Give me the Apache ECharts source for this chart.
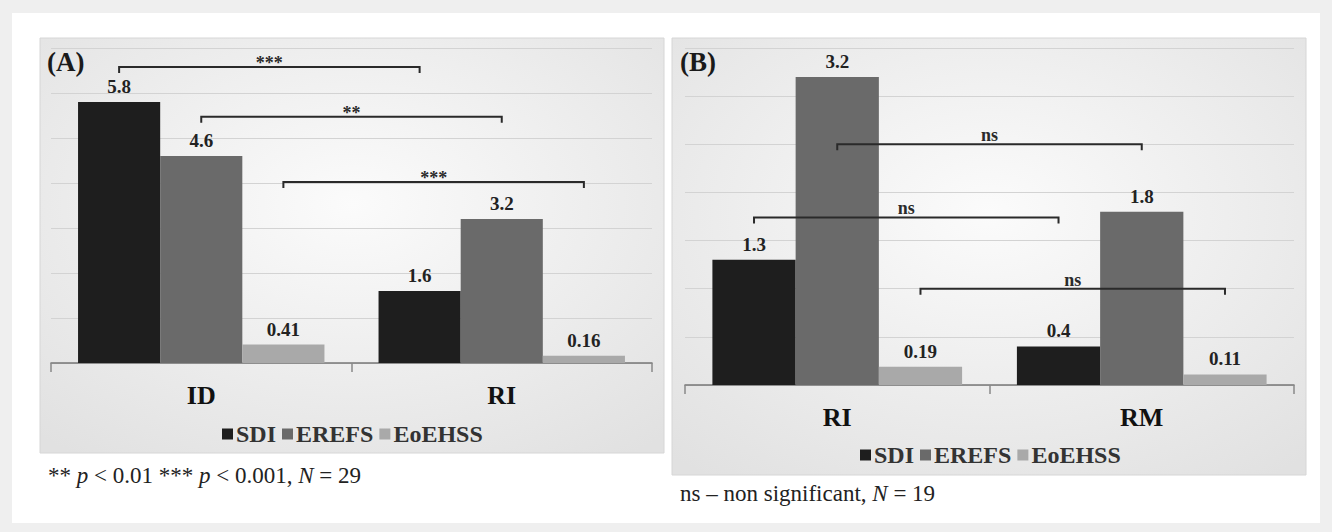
<!DOCTYPE html>
<html>
<head>
<meta charset="utf-8">
<script src="https://cdn.jsdelivr.net/npm/echarts@6/dist/echarts.min.js"></script>
<style>
  html, body { margin: 0; padding: 0; background: #efefef; }
  .card { position: absolute; left: 12px; top: 13px; width: 1308px; height: 510px; background: #fff; }
  #chart { position: absolute; left: 0; top: 0; width: 1332px; height: 532px; }
  .note { position: absolute; font-family: "Liberation Serif", serif; font-size: 23px; color: #222; white-space: nowrap; }
</style>
</head>
<body>
<div class="card"></div>
<div id="chart"></div>
<div class="note" style="left:48px;top:463px">** <i>p</i> &lt; 0.01 *** <i>p</i> &lt; 0.001, <i>N</i> = 29</div>
<div class="note" style="left:680px;top:481px">ns – non significant, <i>N</i> = 19</div>
<script>
// panel A
const catsA = ['ID', 'RI']
const sdiA = [5.8, 1.6]
const erefsA = [4.6, 3.2]
const eoehssA = [0.41, 0.16]
const sigTextA = ['***', '**', '***']
const sigSeriesA = [0, 1, 2]
const sigYA = [6.58, 5.47, 4.02]

// panel B
const catsB = ['RI', 'RM']
const sdiB = [1.3, 0.4]
const erefsB = [3.2, 1.8]
const eoehssB = [0.19, 0.11]
const sigTextB = ['ns', 'ns', 'ns']
const sigSeriesB = [1, 0, 2]
const sigYB = [2.5, 1.74, 1.0]

const seriesNames = ['SDI', 'EREFS', 'EoEHSS']
const colors = ['#1e1e1e', '#6a6a6a', '#a9a9a9']
const serif = '"Liberation Serif", "Times New Roman", serif'
const catGap = 0.18

function bracketRender(texts, seriesIdx) {
  return function (params, api) {
    const a = api.coord([api.value(0), api.value(2)])
    const b = api.coord([api.value(1), api.value(2)])
    const band = api.size([1, 0])[0]
    const bw = band * (1 - catGap) / 3
    const off = (seriesIdx[params.dataIndex] - 1) * bw
    const x1 = a[0] + off, x2 = b[0] + off, y = a[1]
    const txt = texts[params.dataIndex]
    return {
      type: 'group',
      children: [
        {
          type: 'polyline',
          shape: { points: [[x1, y + 6], [x1, y], [x2, y], [x2, y + 6]] },
          style: { stroke: '#2a2a2a', lineWidth: 2, fill: null }
        },
        {
          type: 'text',
          x: (x1 + x2) / 2,
          y: txt === 'ns' ? y - 9 : y - 4,
          style: { text: txt, font: 'bold 18px ' + serif, fill: '#2a2a2a', align: 'center', verticalAlign: 'middle' }
        }
      ]
    }
  }
}

function barSeries(name, data, idx, axis) {
  return {
    name: name,
    type: 'bar',
    xAxisIndex: axis,
    yAxisIndex: axis,
    data: data,
    barGap: '0%',
    barCategoryGap: (catGap * 100) + '%',
    itemStyle: { color: colors[idx] },
    label: {
      show: true,
      position: 'top',
      distance: 6,
      color: '#222',
      fontFamily: serif,
      fontWeight: 'bold',
      fontSize: 19
    }
  }
}

function xAxisOf(data, grid) {
  return {
    type: 'category',
    gridIndex: grid,
    data: data,
    axisLine: { lineStyle: { color: '#777', width: 1.5 } },
    axisTick: { show: true, length: 9, lineStyle: { color: '#888', width: 1.5 } },
    axisLabel: { color: '#111', fontFamily: serif, fontWeight: 'bold', fontSize: 26, margin: 19 }
  }
}

function yAxisOf(max, interval, grid) {
  return {
    type: 'value',
    gridIndex: grid,
    min: 0,
    max: max,
    interval: interval,
    axisLine: { show: false },
    axisTick: { show: false },
    axisLabel: { show: false },
    splitLine: { lineStyle: { color: '#d3d3d3', width: 1.2 } }
  }
}

function panelBg(x, y, w, h) {
  return {
    type: 'rect',
    z: -100,
    shape: { x: x, y: y, width: w, height: h },
    style: {
      fill: {
        type: 'radial', x: 0.5, y: 0.4, r: 0.75,
        colorStops: [{ offset: 0, color: '#fbfbfb' }, { offset: 1, color: '#e1e1e1' }]
      },
      stroke: '#d6d6d6',
      lineWidth: 1
    }
  }
}

const legendCommon = {
  icon: 'rect',
  itemWidth: 11,
  itemHeight: 11,
  itemGap: 6,
  textStyle: { color: '#333', fontFamily: serif, fontWeight: 'bold', fontSize: 24, padding: [0, 0, 0, -2] }
}

const chart = echarts.init(document.getElementById('chart'), null, { renderer: 'svg' })
chart.setOption({
  animation: false,
  graphic: [
    panelBg(40, 38, 624, 415),
    panelBg(672, 38, 634, 437),
    { type: 'text', x: 47, y: 48, style: { text: '(A)', font: 'bold 27px ' + serif, fill: '#1a1a1a' } },
    { type: 'text', x: 680, y: 48, style: { text: '(B)', font: 'bold 27px ' + serif, fill: '#1a1a1a' } }
  ],
  grid: [
    { left: 51, top: 48, width: 601, height: 315 },
    { left: 685, top: 48, width: 609, height: 337 }
  ],
  legend: [
    Object.assign({ data: seriesNames, left: 217, top: 417 }, legendCommon),
    Object.assign({ data: seriesNames, left: 855, top: 438 }, legendCommon)
  ],
  xAxis: [xAxisOf(catsA, 0), xAxisOf(catsB, 1)],
  yAxis: [yAxisOf(7, 1, 0), yAxisOf(3.5, 0.5, 1)],
  series: [
    barSeries('SDI', sdiA, 0, 0),
    barSeries('EREFS', erefsA, 1, 0),
    barSeries('EoEHSS', eoehssA, 2, 0),
    barSeries('SDI', sdiB, 0, 1),
    barSeries('EREFS', erefsB, 1, 1),
    barSeries('EoEHSS', eoehssB, 2, 1),
    {
      type: 'custom',
      xAxisIndex: 0,
      yAxisIndex: 0,
      z: 10,
      silent: true,
      encode: { x: [0, 1], y: 2 },
      data: sigYA.map((y, i) => [0, 1, y]),
      renderItem: bracketRender(sigTextA, sigSeriesA)
    },
    {
      type: 'custom',
      xAxisIndex: 1,
      yAxisIndex: 1,
      z: 10,
      silent: true,
      encode: { x: [0, 1], y: 2 },
      data: sigYB.map((y, i) => [0, 1, y]),
      renderItem: bracketRender(sigTextB, sigSeriesB)
    }
  ]
})
</script>
</body>
</html>
